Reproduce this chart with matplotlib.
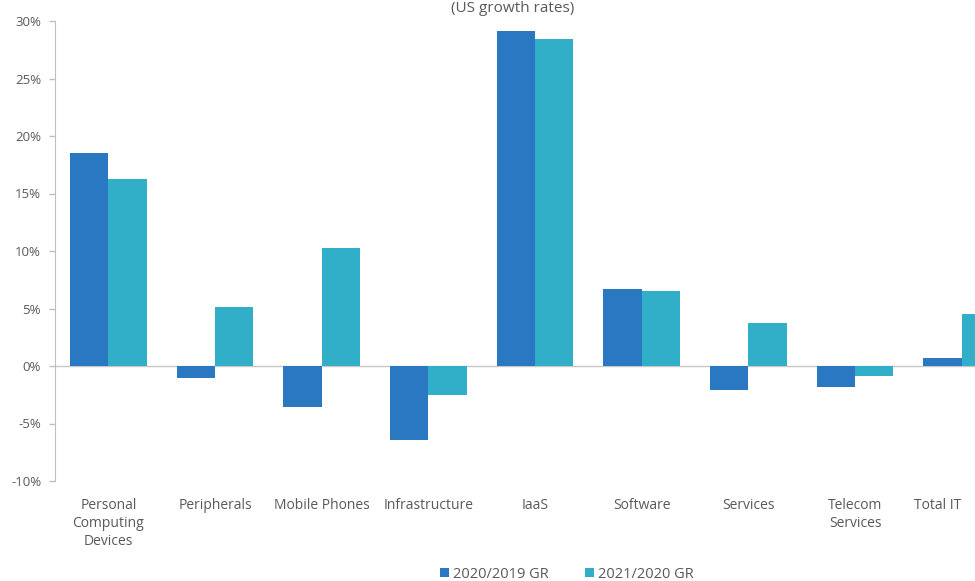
import matplotlib
matplotlib.use("Agg")
import matplotlib.pyplot as plt
import numpy as np
from matplotlib.ticker import FuncFormatter

categories = ["Personal\nComputing\nDevices", "Peripherals", "Mobile Phones", "Infrastructure",
              "IaaS", "Software", "Services", "Telecom\nServices", "Total IT"]
gr_2020 = [18.5, -1.0, -3.6, -6.4, 29.1, 6.7, -2.1, -1.8, 0.7]
gr_2021 = [16.3, 5.1, 10.3, -2.5, 28.4, 6.5, 3.7, -0.9, 4.5]
series_names = ["2020/2019 GR", "2021/2020 GR"]
title = "(US growth rates)"

plt.rcParams['font.family'] = ['Open Sans', 'DejaVu Sans']
c1 = "#2B78C2"
c2 = "#31AFC8"
grey = "#595959"

fig = plt.figure(figsize=(9.75, 5.81), dpi=100)
ax = fig.add_axes([55/975, 100/581, 960/975, 460/581])

x = np.arange(len(categories))
w = 0.36
ax.bar(x - w/2, gr_2020, w, color=c1, label=series_names[0])
ax.bar(x + w/2, gr_2021, w, color=c2, label=series_names[1])

ax.set_xlim(-0.5, len(categories) - 0.5)
ax.set_ylim(-10, 30)
ax.set_yticks(np.arange(-10, 31, 5))
ax.yaxis.set_major_formatter(FuncFormatter(lambda v, p: f"{int(v)}%"))
ax.axhline(0, color="#C8C8C8", lw=1, zorder=0)

for s in ["top", "right", "bottom"]:
    ax.spines[s].set_visible(False)
ax.spines["left"].set_color("#BFBFBF")
ax.tick_params(axis="y", colors="#BFBFBF", labelcolor=grey, labelsize=9.5, length=4, width=1, pad=6)
ax.tick_params(axis="x", length=0, labelsize=10, labelcolor=grey, pad=12)
ax.set_xticks(x)
ax.set_xticklabels(categories, linespacing=1.3)
# keep the last (partly off-figure) label inside the picture
lbl = ax.get_xticklabels()[-1]
lbl.set_horizontalalignment("right")
lbl.set_x(len(categories) - 1 + 0.14)

fig.text(513/975, 0.998, title, ha="center", va="top", fontsize=11, color=grey)

leg = fig.legend(loc="center", bbox_to_anchor=(567/975, 1 - 574/581), ncol=2, frameon=False,
                 fontsize=10.5, handlelength=0.6, handleheight=0.6, handletextpad=0.3, columnspacing=2.5)
for t in leg.get_texts():
    t.set_color(grey)

fig.savefig("out.png", dpi=100)
